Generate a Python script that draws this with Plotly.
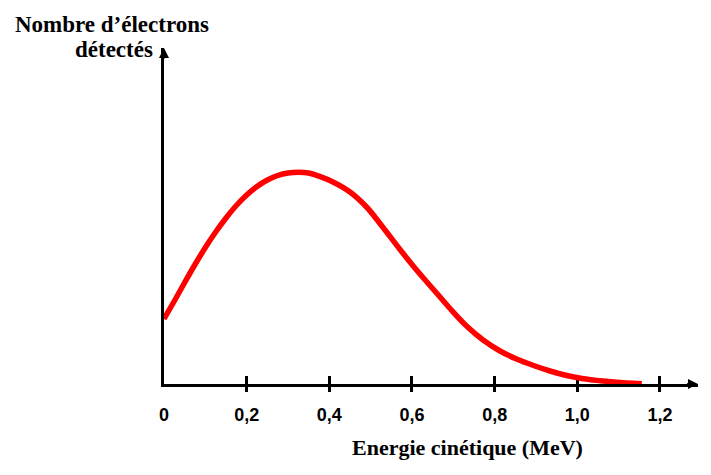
import plotly.graph_objects as go

# Data (energy in MeV, counts in arbitrary units)
energy = [0.0, 0.025, 0.05, 0.075, 0.1, 0.125, 0.15, 0.175, 0.2, 0.225,
          0.25, 0.275, 0.3, 0.325, 0.35, 0.375, 0.41, 0.45, 0.49, 0.531,
          0.571, 0.611, 0.652, 0.692, 0.732, 0.772, 0.813, 0.853, 0.894, 0.934,
          0.974, 1.015, 1.055, 1.095, 1.156]
counts = [65, 83, 101.5, 119.5, 136.5, 152, 166, 178.5, 189, 197.5,
          204, 208.5, 211, 211.8, 211, 207.8, 201.8, 192, 177, 156,
          134.5, 114, 94.5, 75.5, 58, 44, 33, 25, 18.5, 13,
          8.5, 5.2, 3.3, 1.8, 0.3]
tick_values = [0, 0.2, 0.4, 0.6, 0.8, 1.0, 1.2]
tick_labels = ["0", "0,2", "0,4", "0,6", "0,8", "1,0", "1,2"]
mark_values = [0.2, 0.4, 0.6, 0.8, 1.0, 1.2]

x_title = "Energie cinétique (MeV)"
y_title_1 = "Nombre d’électrons"
y_title_2 = "détectés"

XMAX = 1.292
YMAX = 336

serif = "Liberation Serif, Times New Roman, serif"
sans = "Liberation Sans, Arial, sans-serif"

# page body has an 8px margin: figure is placed at (8, 8)
OFF = 8
W, H = 695, 459
L, R, T, B = 156, 5, 40, 83

fig = go.Figure()
fig.add_trace(go.Scatter(x=energy, y=counts, mode="lines",
                         line=dict(color="#FF0000", width=5.5, shape="spline", smoothing=1.0),
                         hoverinfo="skip", showlegend=False))
fig.add_trace(go.Scatter(x=[], y=[], xaxis="x2", showlegend=False, hoverinfo="skip"))
fig.add_trace(go.Scatter(x=[], y=[], xaxis="x3", showlegend=False, hoverinfo="skip"))

common = dict(range=[0, XMAX], showgrid=False, zeroline=False, fixedrange=True, automargin=False)
fig.update_layout(
    width=W, height=H,
    margin=dict(l=L, r=R, t=T, b=B, autoexpand=False),
    paper_bgcolor="white", plot_bgcolor="white",
    xaxis=dict(**common, showline=True, linecolor="black", linewidth=3, layer="below traces",
               tickmode="array", tickvals=tick_values, ticktext=tick_labels, ticks="",
               ticklabelstandoff=12,
               tickfont=dict(family=sans, size=18, color="black", weight="bold")),
    xaxis2=dict(**common, overlaying="x", anchor="y", side="bottom", showline=False,
                tickmode="array", tickvals=mark_values, ticks="outside", ticklen=7,
                tickwidth=3, tickcolor="black", showticklabels=False, layer="below traces"),
    xaxis3=dict(**common, overlaying="x", anchor="y", side="bottom", showline=False,
                tickmode="array", tickvals=mark_values, ticks="inside", ticklen=8,
                tickwidth=3, tickcolor="black", showticklabels=False, layer="below traces"),
    yaxis=dict(range=[0, YMAX], showgrid=False, zeroline=False, showline=True,
               linecolor="black", linewidth=3, showticklabels=False, ticks="",
               fixedrange=True, layer="below traces", automargin=False),
    showlegend=False,
)

# Arrow heads on the axes
fig.add_annotation(x=XMAX, y=0, ax=XMAX - 0.03, ay=0, axref="x", ayref="y", xref="x", yref="y",
                   text="", showarrow=True, arrowhead=2, arrowsize=1, arrowwidth=2,
                   arrowcolor="black")
fig.add_annotation(x=0, y=YMAX, ax=0, ay=YMAX - 12, axref="x", ayref="y", xref="x", yref="y",
                   text="", showarrow=True, arrowhead=2, arrowsize=1, arrowwidth=2,
                   arrowcolor="black")

# Titles (placed by screen pixel position, converted to paper coordinates)
pw, ph = W - L - R, H - T - B
titles = [(y_title_1, 112, 24, 23), (y_title_2, 114, 50, 23), (x_title, 467, 447, 22)]
for txt, px, py, fs in titles:
    fig.add_annotation(x=(px - OFF - L) / pw, y=(OFF + H - B - py) / ph,
                       xref="paper", yref="paper",
                       text=txt, showarrow=False, xanchor="center", yanchor="middle",
                       font=dict(family=serif, size=fs, color="black", weight="bold"))

fig.write_html("out.html")
